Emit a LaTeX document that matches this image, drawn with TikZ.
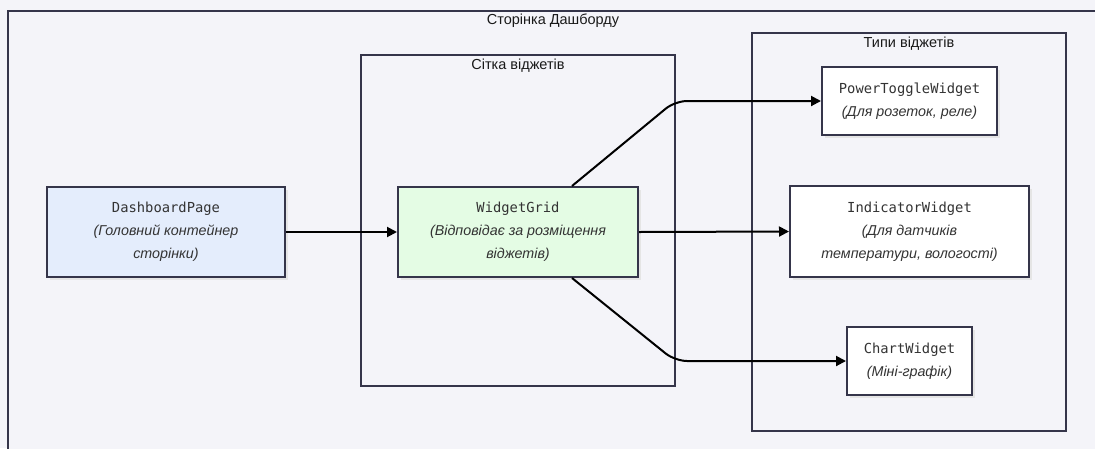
\documentclass[tikz,border=0pt]{standalone}
\usepackage{fontspec}
\setmainfont{Liberation Sans}
\newfontfamily\monofont{DejaVu Sans Mono}
\usetikzlibrary{arrows.meta,shadows}
\definecolor{pagebg}{HTML}{F4F4F9}
\definecolor{edgeline}{HTML}{35354A}
\definecolor{bluefill}{HTML}{E4EDFC}
\definecolor{greenfill}{HTML}{E4FCE4}
\tikzset{
  frame/.style={draw=edgeline, line width=2pt},
  grouptitle/.style={font=\fontsize{14.5}{17}\selectfont, text=black!90, inner sep=0pt},
  widget/.style={draw=edgeline, line width=2pt, fill=white, align=center,
    inner sep=0pt, text=black!80, font=\fontsize{14.3}{23}\selectfont,
    drop shadow={shadow xshift=2.5pt, shadow yshift=-2.5pt, fill=black!10, opacity=1}},
  flow/.style={draw=black, line width=2pt, rounded corners=12pt,
    -{Triangle[length=10pt,width=10pt]}},
}
\newcommand{\wname}[1]{{\monofont\fontsize{13.8}{23}\selectfont #1}}
\newcommand{\wnote}[1]{{\itshape #1}}
\begin{document}
\begin{tikzpicture}[x=1pt,y=-1pt]
  \useasboundingbox (0,0) rectangle (1095,448);
  \clip (0,0) rectangle (1095,448);
  \fill[pagebg] (0,0) rectangle (1095,448);

  % page container and the two groups inside it
  \draw[frame, fill=pagebg] (8,11) rectangle (1100,455);
  \node[grouptitle] (pagetitle) at (553,21) {Сторінка Дашборду};

  \draw[frame] (361,55) rectangle (675,386);
  \node[grouptitle] (gridtitle) at (518,66) {Сітка віджетів};

  \draw[frame] (752,33) rectangle (1066,431);
  \node[grouptitle] (typestitle) at (909,44) {Типи віджетів};

  % components
  \node[widget, fill=bluefill, minimum width=238pt, minimum height=90pt] (dp) at (166,232)
    {\wname{DashboardPage}\\\wnote{(Головний контейнер}\\\wnote{сторінки)}};
  \node[widget, fill=greenfill, minimum width=240pt, minimum height=90pt] (wg) at (518,232)
    {\wname{WidgetGrid}\\\wnote{(Відповідає за розміщення}\\\wnote{віджетів)}};
  \node[widget, minimum width=175pt, minimum height=68pt] (pt) at (909.5,101)
    {\wname{PowerToggleWidget}\\\wnote{(Для розеток, реле)}};
  \node[widget, minimum width=239pt, minimum height=91pt] (iw) at (909.5,231.5)
    {\wname{IndicatorWidget}\\\wnote{(Для датчиків}\\\wnote{температури, вологості)}};
  \node[widget, minimum width=125pt, minimum height=68pt] (cw) at (909.5,361)
    {\wname{ChartWidget}\\\wnote{(Міні-графік)}};

  % bend points of the routed connectors
  \coordinate (upbend) at (675,101);
  \coordinate (downbend) at (675,361);

  % connectors
  \draw[flow] (dp.east) -- (wg.west);
  \draw[flow] ([xshift=175pt]wg.north west) -- (upbend) -- (pt.west);
  \draw[flow] (wg.east) -- (iw.west);
  \draw[flow] ([xshift=175pt]wg.south west) -- (downbend) -- (cw.west);
\end{tikzpicture}
\end{document}
